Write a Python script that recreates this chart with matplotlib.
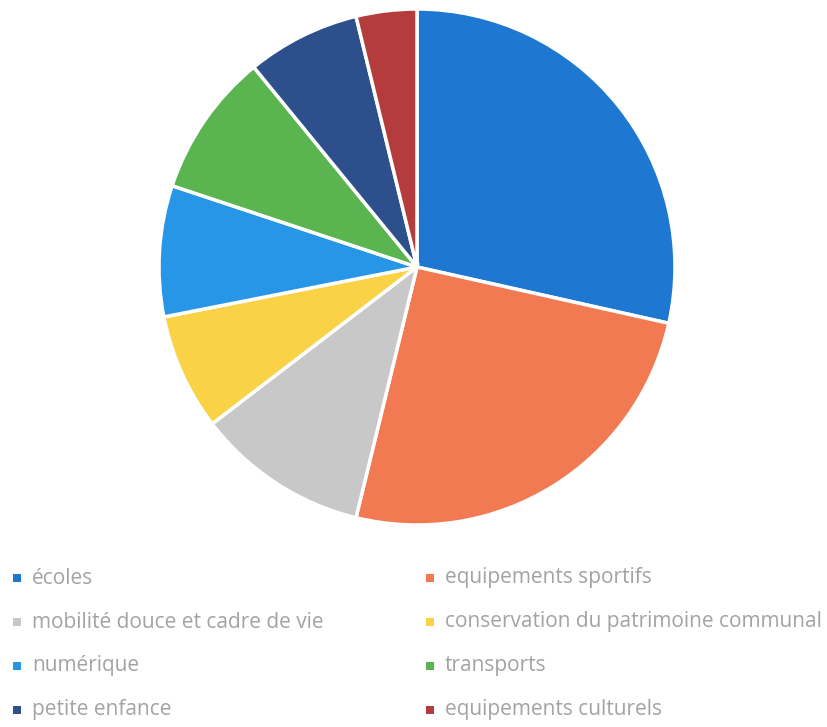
import matplotlib
matplotlib.use("Agg")
import matplotlib.pyplot as plt
from matplotlib.patches import Rectangle

# share of each investment category (percent)
labels = [
    "écoles",
    "equipements sportifs",
    "mobilité douce et cadre de vie",
    "conservation du patrimoine communal",
    "numérique",
    "transports",
    "petite enfance",
    "equipements culturels",
]
shares = [28.5, 25.3, 10.8, 7.3, 8.2, 9.0, 7.1, 3.8]
colors = ["#1E78D2", "#F27A52", "#C8C8C8", "#FAD246",
          "#2896E6", "#5AB450", "#2D508C", "#B43C3C"]

W, H = 828, 727
fig = plt.figure(figsize=(W / 100, H / 100), dpi=100)
ax = fig.add_axes([0, 0, 1, 1])

# pie, clockwise from 12 o'clock, in pixel-like coordinates (y up)
ax.pie(shares, colors=colors, startangle=90, counterclock=False,
       center=(417, H - 267), radius=258,
       wedgeprops=dict(edgecolor="white", linewidth=2.5))
ax.set_xlim(0, W)
ax.set_ylim(0, H)
ax.set_aspect("equal")
ax.axis("off")

# legend: two columns, row-wise order
col_x = [17, 430]
row_y0, row_dy = 578, 44
for i, (lab, c) in enumerate(zip(labels, colors)):
    col, row = i % 2, i // 2
    y = row_y0 + row * row_dy
    x = col_x[col]
    ax.add_patch(Rectangle((x - 4, H - y - 4), 8, 8, color=c, lw=0))
    ax.text(x + 15, H - y, lab, fontsize=15, color="#A3A3A3",
            family="Open Sans", va="center", ha="left")

fig.savefig("out.png", dpi=100, facecolor="white")
